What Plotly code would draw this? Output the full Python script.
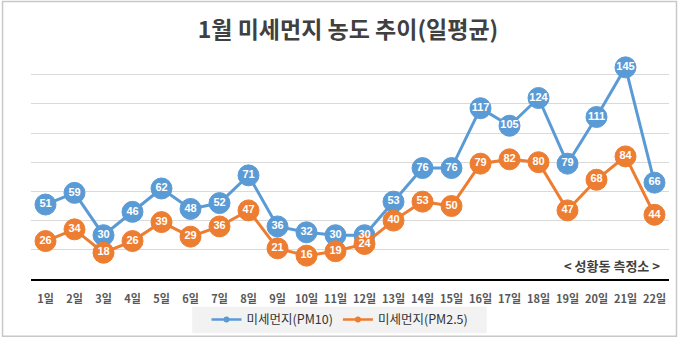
import plotly.graph_objects as go

days = [f"{i}일" for i in range(1, 23)]
pm10 = [51, 59, 30, 46, 62, 48, 52, 71, 36, 32, 30, 30, 53, 76, 76, 117, 105, 124, 79, 111, 145, 66]
pm25 = [26, 34, 18, 26, 39, 29, 36, 47, 21, 16, 19, 24, 40, 53, 50, 79, 82, 80, 47, 68, 84, 44]
names = ["미세먼지(PM10)", "미세먼지(PM2.5)"]
colors = ["#5B9BD5", "#ED7D31"]

KR = "Noto Sans CJK KR"
fig = go.Figure()

series = [(pm10, names[0], colors[0]), (pm25, names[1], colors[1])]

# lines + markers (PM10 first, PM2.5 drawn over it)
for vals, name, col in series:
    fig.add_trace(go.Scatter(
        x=days, y=vals, mode="lines+markers",
        line=dict(color=col, width=3),
        marker=dict(size=21, color=col, line=dict(color=col, width=1)),
        showlegend=False, hoverinfo="skip", cliponaxis=False,
    ))

# value labels on top of all markers
for vals, name, col in series:
    fig.add_trace(go.Scatter(
        x=days, y=vals, mode="text", text=[str(v) for v in vals],
        textposition="middle center",
        textfont=dict(family="Liberation Sans", size=11, color="white", weight="bold"),
        showlegend=False, hoverinfo="skip", cliponaxis=False,
    ))

# legend entries
for vals, name, col in series:
    fig.add_trace(go.Scatter(
        x=[None], y=[None], mode="lines+markers", name=name,
        line=dict(color=col, width=2.5), marker=dict(size=6, color=col),
    ))

PW, PH, L, B = 639, 237, 30.5, 282


def px(x):
    return (x - L) / PW


def py(y):
    return (B - y) / PH


fig.update_layout(
    width=680, height=345,
    margin=dict(l=30.5, r=10.5, t=45, b=63),
    paper_bgcolor="white", plot_bgcolor="white",
    title=dict(text="<b>1월 미세먼지 농도 추이(일평균)</b>", x=(348 / 680), xanchor="center",
               y=1 - 30 / 345, yanchor="middle",
               font=dict(family=KR, size=23, color="#404040")),
    font=dict(family=KR, color="#404040"),
    xaxis=dict(type="category", range=[-0.5, 21.5], showgrid=False, showline=True,
               linecolor="black", linewidth=2, ticks="", ticklabelstandoff=9,
               tickfont=dict(family=KR, size=11, color="#595959", weight="bold"),
               fixedrange=True),
    yaxis=dict(range=[0, 160.3], dtick=20, showgrid=True, gridcolor="#D9D9D9",
               gridwidth=1, zeroline=False, showticklabels=False, fixedrange=True),
    legend=dict(orientation="h", x=px(340), xanchor="center", y=py(323.5),
                yanchor="middle", bgcolor="rgba(0,0,0,0)",
                font=dict(family=KR, size=12.5, color="#333333"),
                itemwidth=30, tracegroupgap=0),
    annotations=[dict(text="<b>< 성황동 측정소 ></b>", xref="paper", yref="paper",
                      x=px(662), y=py(268), xanchor="right",
                      yanchor="middle", showarrow=False,
                      font=dict(family=KR, size=13, color="#404040"))],
    shapes=[dict(type="rect", xref="paper", yref="paper",
                 x0=px(2), x1=px(677), y0=py(340), y1=py(1),
                 line=dict(color="#C8C8C8", width=1.5), layer="below"),
            dict(type="rect", xref="paper", yref="paper",
                 x0=px(192), x1=px(487), y0=py(337), y1=py(310),
                 line=dict(width=0), fillcolor="#F2F2F2", layer="below")],
)

fig.write_html("out.html")
